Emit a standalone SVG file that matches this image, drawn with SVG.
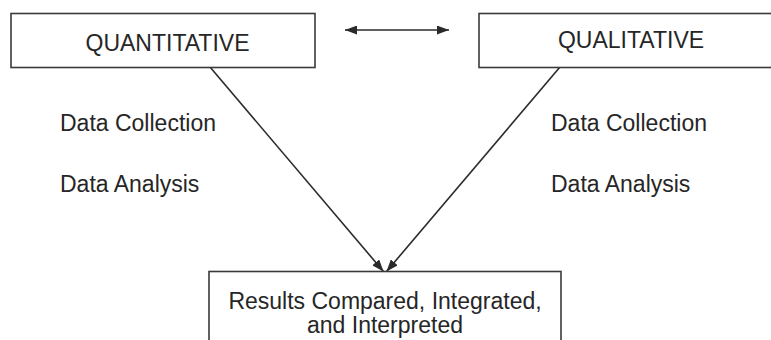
<svg xmlns="http://www.w3.org/2000/svg" width="771" height="340" viewBox="0 0 771 340">
<style>
.box{fill:#fff;stroke:#3a3a3a;stroke-width:1.6}
.t{font-family:"Liberation Sans",Arial,sans-serif;font-size:23px;fill:#262626}
.c{text-anchor:middle}
.ln{stroke:#2a2a2a;stroke-width:1.6;fill:none}
</style>
<defs>
<marker id="ah" markerUnits="userSpaceOnUse" markerWidth="13" markerHeight="9" refX="12" refY="4.5" orient="auto-start-reverse">
<path d="M0,0 L12,4.5 L0,9 z" fill="#2a2a2a"/>
</marker>
</defs>
<rect width="771" height="340" fill="#fff"/>
<g id="connectors">
<line class="ln" x1="210" y1="67" x2="383.5" y2="271.5" marker-end="url(#ah)"/>
<line class="ln" x1="560" y1="67" x2="386.5" y2="271.5" marker-end="url(#ah)"/>
<line class="ln" x1="345" y1="30" x2="449" y2="30" marker-start="url(#ah)" marker-end="url(#ah)"/>
</g>
<g id="quantitative">
<rect class="box" x="11" y="13.5" width="304" height="54"/>
<text class="t c" x="167.5" y="51">QUANTITATIVE</text>
</g>
<g id="qualitative">
<rect class="box" x="479" y="13.5" width="300" height="54"/>
<text class="t c" x="631" y="48">QUALITATIVE</text>
</g>
<g id="quant-steps">
<text class="t" x="60" y="131">Data Collection</text>
<text class="t" x="60" y="192">Data Analysis</text>
</g>
<g id="qual-steps">
<text class="t" x="551" y="131">Data Collection</text>
<text class="t" x="551" y="192">Data Analysis</text>
</g>
<g id="results">
<rect class="box" x="209" y="271.5" width="352" height="100"/>
<text class="t c" x="385" y="308.5">Results Compared, Integrated,</text>
<text class="t c" x="385" y="332.5">and Interpreted</text>
</g>
</svg>
